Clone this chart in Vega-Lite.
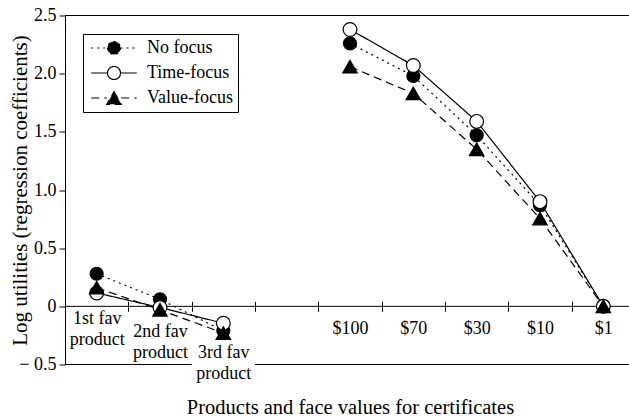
{
  "$schema": "https://vega.github.io/schema/vega-lite/v6.json",
  "width": 564,
  "height": 349,
  "autosize": {"type": "none"},
  "padding": {"left": 65, "top": 15.5, "right": 0, "bottom": 53.5},
  "background": "white",
  "config": {"view": {"stroke": null}, "font": "Liberation Serif"},
  "data": {
    "values": [
      {"series": "No focus", "cat": "1st fav product", "part": "products", "v": 0.28},
      {"series": "No focus", "cat": "2nd fav product", "part": "products", "v": 0.06},
      {"series": "No focus", "cat": "3rd fav product", "part": "products", "v": -0.21},
      {"series": "No focus", "cat": "$100", "part": "values", "v": 2.26},
      {"series": "No focus", "cat": "$70", "part": "values", "v": 1.98},
      {"series": "No focus", "cat": "$30", "part": "values", "v": 1.47},
      {"series": "No focus", "cat": "$10", "part": "values", "v": 0.87},
      {"series": "No focus", "cat": "$1", "part": "values", "v": 0.0},
      {"series": "Time-focus", "cat": "1st fav product", "part": "products", "v": 0.115},
      {"series": "Time-focus", "cat": "2nd fav product", "part": "products", "v": -0.01},
      {"series": "Time-focus", "cat": "3rd fav product", "part": "products", "v": -0.145},
      {"series": "Time-focus", "cat": "$100", "part": "values", "v": 2.38},
      {"series": "Time-focus", "cat": "$70", "part": "values", "v": 2.07},
      {"series": "Time-focus", "cat": "$30", "part": "values", "v": 1.59},
      {"series": "Time-focus", "cat": "$10", "part": "values", "v": 0.9},
      {"series": "Time-focus", "cat": "$1", "part": "values", "v": 0.0},
      {"series": "Value-focus", "cat": "1st fav product", "part": "products", "v": 0.16},
      {"series": "Value-focus", "cat": "2nd fav product", "part": "products", "v": -0.03},
      {"series": "Value-focus", "cat": "3rd fav product", "part": "products", "v": -0.23},
      {"series": "Value-focus", "cat": "$100", "part": "values", "v": 2.06},
      {"series": "Value-focus", "cat": "$70", "part": "values", "v": 1.83},
      {"series": "Value-focus", "cat": "$30", "part": "values", "v": 1.35},
      {"series": "Value-focus", "cat": "$10", "part": "values", "v": 0.755},
      {"series": "Value-focus", "cat": "$1", "part": "values", "v": 0.0}
    ]
  },
  "layer": [
    {
      "data": {"values": [{}]},
      "mark": {"type": "rule", "color": "black", "strokeWidth": 1},
      "encoding": {"y": {"datum": 2.5, "type": "quantitative"}}
    },
    {
      "data": {"values": [{}]},
      "mark": {"type": "rule", "color": "black", "strokeWidth": 1},
      "encoding": {"y": {"datum": 0, "type": "quantitative"}}
    },
    {
      "data": {"values": [{}]},
      "mark": {"type": "rule", "color": "black", "strokeWidth": 1},
      "encoding": {"y": {"datum": -0.5, "type": "quantitative"}}
    },
    {
      "data": {"values": [{}]},
      "mark": {"type": "rect", "color": "white"},
      "encoding": {
        "x": {"datum": "3rd fav product", "type": "nominal"},
        "y": {"datum": -0.53, "type": "quantitative"},
        "y2": {"datum": -0.47}
      }
    },
    {
      "mark": {"type": "line", "color": "black", "strokeWidth": 1.2},
      "encoding": {
        "x": {
          "field": "cat",
          "type": "nominal",
          "scale": {
            "type": "band",
            "domain": ["1st fav product", "2nd fav product", "3rd fav product", " ", "$100", "$70", "$30", "$10", "$1"],
            "range": [0, 570],
            "paddingInner": 0,
            "paddingOuter": 0
          },
          "axis": {
            "orient": "bottom",
            "offset": -63.2,
            "domain": false,
            "ticks": true,
            "tickSize": 10,
            "tickColor": "black",
            "tickWidth": 1,
            "tickBand": "extent",
            "grid": false,
            "labelAngle": 0,
            "labelAlign": "center",
            "labelFont": "Liberation Serif",
            "labelFontSize": 18,
            "labelColor": "black",
            "labelLineHeight": 21.5,
            "labelOverlap": false,
            "labelBound": false,
            "labelFlush": false,
            "labelLimit": 300,
            "labelPadding": {
              "condition": [
                {"test": "datum.value == '2nd fav product'", "value": 20},
                {"test": "datum.value == '3rd fav product'", "value": 41},
                {"test": "datum.value == '1st fav product'", "value": 7}
              ],
              "value": 17
            },
            "labelExpr": "indexof(datum.label, 'fav') > 0 ? [substring(datum.label, 0, 7), 'product'] : datum.label",
            "title": "Products and face values for certificates",
            "titleFont": "Liberation Serif",
            "titleFontSize": 20.5,
            "titleFontWeight": "normal",
            "titleColor": "black",
            "titleBaseline": "alphabetic",
            "titleY": 111.7,
            "zindex": 1
          }
        },
        "y": {
          "field": "v",
          "type": "quantitative",
          "scale": {"domain": [-0.5, 2.5], "nice": false, "zero": false},
          "axis": {
            "values": [-0.5, 0, 0.5, 1, 1.5, 2, 2.5],
            "grid": false,
            "domain": true,
            "domainColor": "black",
            "domainWidth": 1,
            "tickSize": 6,
            "tickColor": "black",
            "tickWidth": 1,
            "labelFont": "Liberation Serif",
            "labelFontSize": 18,
            "labelColor": "black",
            "labelPadding": 3,
            "labelExpr": "datum.value == 0 ? '0' : (datum.value < 0 ? '− 0.5' : format(datum.value, '.1f'))",
            "title": "Log utilities (regression coefficients)",
            "titleFont": "Liberation Serif",
            "titleFontSize": 21,
            "titleFontWeight": "normal",
            "titleColor": "black",
            "titleBaseline": "bottom",
            "titleX": -35,
            "titleY": 174.5
          }
        },
        "strokeDash": {
          "field": "series",
          "type": "nominal",
          "scale": {
            "domain": ["No focus", "Time-focus", "Value-focus"],
            "range": [[2, 4], [1, 0], [8, 5]]
          },
          "legend": {
            "title": null,
            "orient": "none",
            "legendX": 18,
            "legendY": 18.5,
            "direction": "vertical",
            "strokeColor": "black",
            "fillColor": "white",
            "padding": 5,
            "rowPadding": 7,
            "symbolSize": 169,
            "symbolStrokeWidth": 1.2,
            "symbolStrokeColor": "black",
            "symbolOffset": 17,
            "labelOffset": 24,
            "labelFont": "Liberation Serif",
            "labelFontSize": 18,
            "labelColor": "black",
            "labelLimit": 300,
            "encode": {
              "symbols": {
                "update": {
                  "shape": {"signal": "datum.value == 'Value-focus' ? 'M-3.5,0H-1.1M1.1,0H3.5M0,-0.97L1.12,0.97L-1.12,0.97Z' : 'M-3.5,0H-1M1,0H3.5M1,0A1,1,0,1,1,-1,0A1,1,0,1,1,1,0Z'"},
                  "fill": {"signal": "datum.value == 'Time-focus' ? 'white' : 'black'"},
                  "stroke": {"value": "black"},
                  "strokeWidth": {"value": 1.2}
                }
              }
            }
          }
        },
        "detail": {"field": "part", "type": "nominal"},
        "order": {"value": null}
      }
    },
    {
      "mark": {"type": "point", "filled": true, "stroke": "black", "strokeWidth": 1.2, "opacity": 1},
      "encoding": {
        "x": {"field": "cat", "type": "nominal"},
        "y": {"field": "v", "type": "quantitative"},
        "shape": {
          "field": "series",
          "type": "nominal",
          "scale": {"domain": ["Value-focus", "No focus", "Time-focus"], "range": ["triangle-up", "circle", "circle"]},
          "legend": null
        },
        "fill": {
          "field": "series",
          "type": "nominal",
          "scale": {"domain": ["Time-focus", "Value-focus", "No focus"], "range": ["white", "black", "black"]},
          "legend": null
        },
        "size": {
          "field": "series",
          "type": "ordinal",
          "scale": {"domain": ["Value-focus", "Time-focus", "No focus"], "range": [210, 169, 169]},
          "legend": null
        }
      }
    }
  ]
}
